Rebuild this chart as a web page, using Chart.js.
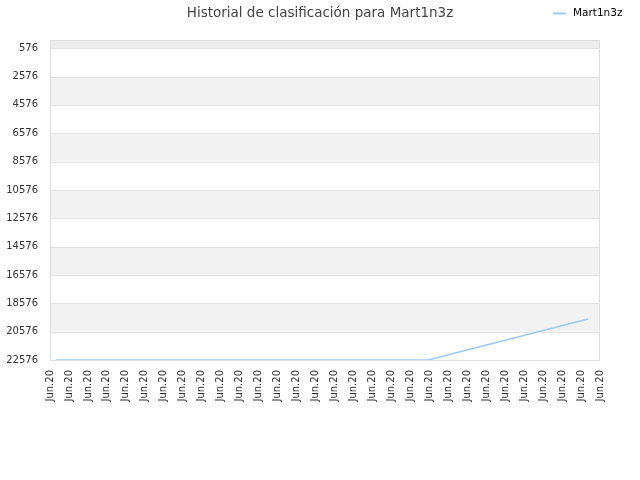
<!DOCTYPE html>
<html>
<head>
<meta charset="utf-8">
<script src="https://cdn.jsdelivr.net/npm/chart.js@4"></script>
<style>
  html, body { margin: 0; padding: 0; background: #fff; }
  #wrap { width: 640px; height: 480px; }
</style>
</head>
<body>
<div id="wrap"><canvas id="rankChart" width="640" height="480"></canvas></div>
<script>
// Historial de clasificación
const titleText = 'Historial de clasificación para Mart1n3z';
const seriesName = 'Mart1n3z';
const xLabels = ['Jun.20','Jun.20','Jun.20','Jun.20','Jun.20','Jun.20','Jun.20','Jun.20','Jun.20','Jun.20',
                 'Jun.20','Jun.20','Jun.20','Jun.20','Jun.20','Jun.20','Jun.20','Jun.20','Jun.20','Jun.20',
                 'Jun.20','Jun.20','Jun.20','Jun.20','Jun.20','Jun.20','Jun.20','Jun.20','Jun.20','Jun.20'];
const yTicks = [576, 2576, 4576, 6576, 8576, 10576, 12576, 14576, 16576, 18576, 20576, 22576];
const xPos = [0.3, 19.93, 28.37];
const ranks = [22576, 22576, 19685];

const lineColor = '#9dcaf4';

// bandas alternas + borde del área
const bands = {
    id: 'bands',
    beforeDatasetsDraw(chart) {
        const { ctx, chartArea: a, scales: { y } } = chart;
        ctx.save();
        const top = y.getPixelForValue(yTicks[0]);
        ctx.fillStyle = '#ececec';
        ctx.fillRect(a.left, a.top, a.right - a.left, top - a.top);
        for (let i = 0; i < yTicks.length - 1; i++) {
            if (i % 2 === 1) {
                const p1 = y.getPixelForValue(yTicks[i]);
                const p2 = y.getPixelForValue(yTicks[i + 1]);
                ctx.fillStyle = '#f2f2f2';
                ctx.fillRect(a.left, p1, a.right - a.left, p2 - p1);
            }
        }
        ctx.strokeStyle = '#e2e2e2';
        ctx.lineWidth = 1;
        yTicks.forEach(v => {
            const p = Math.round(y.getPixelForValue(v)) + 0.5;
            ctx.beginPath(); ctx.moveTo(a.left, p); ctx.lineTo(a.right, p); ctx.stroke();
        });
        ctx.strokeStyle = '#dddddd';
        ctx.strokeRect(a.left + 0.5, a.top + 0.5, a.right - a.left - 1, a.bottom - a.top);
        ctx.restore();
    }
};

// leyenda arriba a la derecha, en la misma línea que el título
const sideLegend = {
    id: 'sideLegend',
    afterDraw(chart) {
        const ctx = chart.ctx;
        ctx.save();
        ctx.strokeStyle = lineColor;
        ctx.lineWidth = 2;
        ctx.beginPath(); ctx.moveTo(553, 13.5); ctx.lineTo(566, 13.5); ctx.stroke();
        ctx.fillStyle = '#000';
        ctx.font = '10.5px "DejaVu Sans"';
        ctx.textBaseline = 'middle';
        ctx.fillText(seriesName, 573, 13);
        ctx.restore();
    }
};

new Chart(document.getElementById('rankChart'), {
    type: 'line',
    data: {
        datasets: [{
            label: seriesName,
            data: xPos.map((x, i) => ({ x, y: ranks[i] })),
            borderColor: lineColor,
            borderWidth: 1.5,
            pointRadius: 0,
            tension: 0,
            fill: false
        }]
    },
    options: {
        responsive: false,
        animation: false,
        layout: { padding: 0 },
        plugins: {
            legend: { display: false },
            tooltip: { enabled: false },
            title: {
                display: true,
                text: titleText,
                color: '#444',
                font: { family: 'DejaVu Sans', size: 13.5, weight: 'normal' },
                padding: { top: 5.8, bottom: 18 }
            }
        },
        scales: {
            x: {
                type: 'linear',
                min: 0, max: xLabels.length - 1,
                afterBuildTicks: s => { s.ticks = xLabels.map((_, i) => ({ value: i })); },
                afterFit: s => { s.height = 120; },
                grid: { display: false },
                border: { display: false },
                ticks: {
                    autoSkip: false,
                    minRotation: 90, maxRotation: 90,
                    padding: 2,
                    color: '#333',
                    font: { family: 'DejaVu Sans', size: 10 },
                    callback: (v, i) => xLabels[i]
                }
            },
            y: {
                reverse: true,
                min: 0, max: 22576,
                afterBuildTicks: s => { s.ticks = yTicks.map(v => ({ value: v })); },
                afterFit: s => { s.width = 50; },
                grid: { display: false },
                border: { display: false },
                ticks: {
                    padding: 4,
                    color: '#333',
                    font: { family: 'DejaVu Sans', size: 10 },
                    callback: v => String(v)
                }
            },
            yRight: {
                position: 'right',
                display: true,
                afterFit: s => { s.width = 40; },
                grid: { display: false },
                border: { display: false },
                ticks: { display: false }
            }
        }
    },
    plugins: [bands, sideLegend]
});
</script>
</body>
</html>
